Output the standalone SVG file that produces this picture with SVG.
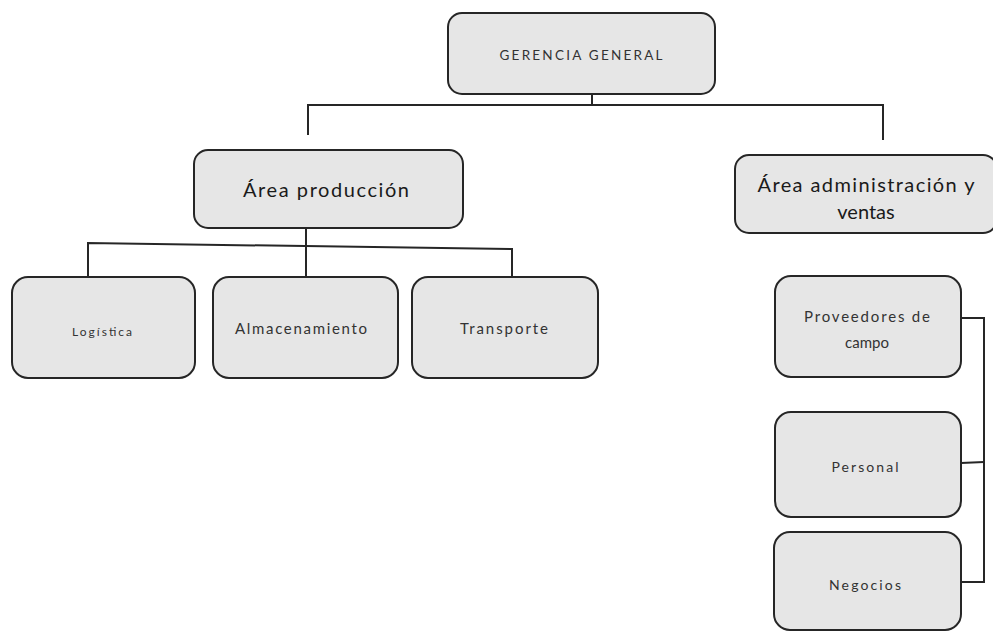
<svg xmlns="http://www.w3.org/2000/svg" width="993" height="632" viewBox="0 0 993 632">
<style>
.box{fill:#e6e6e6;stroke:#262626;stroke-width:2}
.ln{fill:none;stroke:#262626;stroke-width:2}
text{font-family:Lato,"Open Sans","Liberation Sans",sans-serif;text-anchor:middle;fill:#333}
.big{font-size:20px;fill:#1a1a1a}
.mid{font-size:15px}
.sm{font-size:14px}
.gg{font-size:13.5px}
.xs{font-size:12px}
</style>
<rect width="993" height="632" fill="#fff"/>
<g id="connectors">
<polyline class="ln" points="592,94 592,105"/>
<polyline class="ln" points="308,135 308,105 883,105 883,140"/>
<polyline class="ln" points="306,228 306,277"/>
<polyline class="ln" points="88,277 88,243 512,249 512,277"/>
<polyline class="ln" points="961,318 984,318 984,582 961,582"/>
<polyline class="ln" points="961,463 984,462"/>
</g>
<g id="gerencia">
<rect class="box" x="448" y="13" width="267" height="81" rx="14"/>
<text class="gg" x="581" y="60" textLength="163">GERENCIA GENERAL</text>
</g>
<g id="produccion">
<rect class="box" x="194" y="150" width="269" height="78" rx="14"/>
<text class="big" x="326" y="197" textLength="166">Área producción</text>
</g>
<g id="administracion">
<rect class="box" x="735" y="155" width="262" height="78" rx="14"/>
<text class="big" x="866" y="192" textLength="217">Área administración y</text>
<text class="big" x="866" y="219">ventas</text>
</g>
<g id="logistica">
<rect class="box" x="12" y="277" width="183" height="101" rx="16"/>
<text class="xs" x="102" y="336" textLength="60">Logística</text>
</g>
<g id="almacenamiento">
<rect class="box" x="213" y="277" width="185" height="101" rx="16"/>
<text class="mid" x="301" y="334" textLength="132">Almacenamiento</text>
</g>
<g id="transporte">
<rect class="box" x="412" y="277" width="186" height="101" rx="16"/>
<text class="mid" x="504" y="334" textLength="88">Transporte</text>
</g>
<g id="proveedores">
<rect class="box" x="775" y="276" width="186" height="101" rx="16"/>
<text class="mid" x="867" y="322" textLength="126">Proveedores de</text>
<text class="mid" x="867" y="348">campo</text>
</g>
<g id="personal">
<rect class="box" x="775" y="412" width="186" height="105" rx="16"/>
<text class="sm" x="865" y="472" textLength="67">Personal</text>
</g>
<g id="negocios">
<rect class="box" x="774" y="532" width="187" height="98" rx="16"/>
<text class="sm" x="865" y="590" textLength="72">Negocios</text>
</g>
</svg>
